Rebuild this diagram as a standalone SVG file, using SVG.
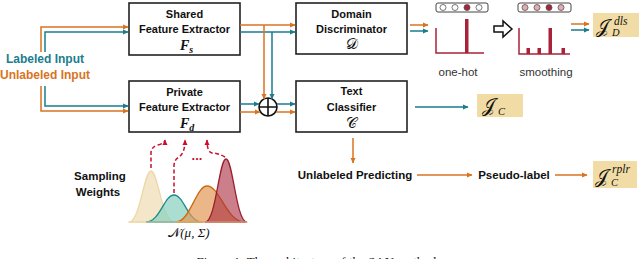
<svg xmlns="http://www.w3.org/2000/svg" width="640" height="259" viewBox="0 0 640 259">
<style>
.box{fill:#fff;stroke:#222;stroke-width:1.6}
.t{font-family:"Liberation Sans",Arial,sans-serif;font-weight:bold;font-size:11px;fill:#111;text-anchor:middle}
.m{font-family:"Liberation Serif","DejaVu Serif",serif;font-style:italic;fill:#111}
.s{font-family:"Liberation Serif","DejaVu Serif",serif;font-style:normal;fill:#111}
.o{stroke:#d9731f;stroke-width:1.5;fill:none}
.c{stroke:#1a7d8e;stroke-width:1.5;fill:none}
.oa{marker-end:url(#ao)}
.ca{marker-end:url(#ac)}
.tan{fill:#f2dca6}
.lab{font-family:"Liberation Sans",Arial,sans-serif;font-size:11.5px;fill:#333;text-anchor:middle}
.dr{fill:#a8233a}
</style>
<defs>
<marker id="ao" markerUnits="userSpaceOnUse" markerWidth="6" markerHeight="6" refX="5" refY="3" orient="auto"><path d="M0,0.5 L5.5,3 L0,5.5 Z" fill="#d9731f"/></marker>
<marker id="ac" markerUnits="userSpaceOnUse" markerWidth="6" markerHeight="6" refX="5" refY="3" orient="auto"><path d="M0,0.5 L5.5,3 L0,5.5 Z" fill="#1a7d8e"/></marker>
<marker id="ar" markerUnits="userSpaceOnUse" markerWidth="6" markerHeight="6" refX="5" refY="3" orient="auto"><path d="M0,0.5 L5.5,3 L0,5.5 Z" fill="#c8102e"/></marker>
</defs>

<g id="inputs">
<text x="45" y="63" class="t" style="font-size:12px;fill:#1a7d8e">Labeled Input</text>
<text x="45" y="79" class="t" style="font-size:12px;fill:#d9731f">Unlabeled Input</text>
</g>

<g id="shared">
<rect class="box" x="129" y="3" width="111" height="52"/>
<text class="t" x="184.5" y="18">Shared</text>
<text class="t" x="184.5" y="33">Feature Extractor</text>
<text class="m" x="180" y="50" font-size="14" font-weight="bold">F<tspan font-size="10" dy="3">s</tspan></text>
</g>

<g id="private">
<rect class="box" x="129" y="81" width="111" height="51"/>
<text class="t" x="184.5" y="96">Private</text>
<text class="t" x="184.5" y="111">Feature Extractor</text>
<text class="m" x="180" y="128" font-size="14" font-weight="bold">F<tspan font-size="10" dy="3">d</tspan></text>
</g>

<g id="domain">
<rect class="box" x="296" y="3" width="111" height="51"/>
<text class="t" x="351.5" y="18">Domain</text>
<text class="t" x="351.5" y="33">Discriminator</text>
<text class="s" x="351.5" y="49" font-size="15" text-anchor="middle">𝒟</text>
</g>

<g id="classifier">
<rect class="box" x="296" y="81" width="111" height="51"/>
<text class="t" x="351.5" y="95">Text</text>
<text class="t" x="351.5" y="111">Classifier</text>
<text class="s" x="351.5" y="128" font-size="15" text-anchor="middle">𝒞</text>
</g>

<g id="sum">
<circle cx="268" cy="107" r="9" fill="#fff" stroke="#111" stroke-width="1.6"/>
<path d="M259,107 H277 M268,98 V116" stroke="#111" stroke-width="1.6"/>
</g>

<g id="onehot">
<rect x="436" y="3" width="52" height="9" rx="2" fill="#fff" stroke="#444" stroke-width="1"/>
<circle cx="443" cy="7.5" r="3" fill="#fff" stroke="#555" stroke-width="0.8"/>
<circle cx="455" cy="7.5" r="3" fill="#fff" stroke="#555" stroke-width="0.8"/>
<circle cx="467" cy="7.5" r="3" fill="#a8233a" stroke="#555" stroke-width="0.8"/>
<circle cx="479" cy="7.5" r="3" fill="#fff" stroke="#555" stroke-width="0.8"/>
<path d="M436,28 V53 H484" stroke="#a8233a" stroke-width="1.5" fill="none"/>
<rect class="dr" x="465" y="19" width="3.5" height="34"/>
<text class="lab" x="458" y="76">one-hot</text>
</g>

<g id="hollow-arrow">
<path d="M494,26 H503 V21 L512,29 L503,37 V32 H494 Z" fill="#fff" stroke="#111" stroke-width="1.5"/>
</g>

<g id="smoothing">
<rect x="518" y="3" width="53" height="9" rx="2" fill="#fff" stroke="#444" stroke-width="1"/>
<circle cx="525" cy="7.5" r="3" fill="#e7a9b3" stroke="#555" stroke-width="0.8"/>
<circle cx="537" cy="7.5" r="3" fill="#e7a9b3" stroke="#555" stroke-width="0.8"/>
<circle cx="549" cy="7.5" r="3" fill="#a8233a" stroke="#555" stroke-width="0.8"/>
<circle cx="561" cy="7.5" r="3" fill="#e7a9b3" stroke="#555" stroke-width="0.8"/>
<path d="M519,28 V54 H570" stroke="#a8233a" stroke-width="1.5" fill="none"/>
<rect class="dr" x="526.5" y="48" width="3.5" height="6"/>
<rect class="dr" x="537.5" y="48" width="3.5" height="6"/>
<rect class="dr" x="548.5" y="28" width="3.5" height="26"/>
<rect class="dr" x="561.5" y="48" width="3.5" height="6"/>
<text class="lab" x="546" y="76">smoothing</text>
</g>

<g id="jd">
<rect class="tan" x="593" y="13" width="46" height="24"/>
<text class="s" x="596" y="33" font-size="19">𝒥</text>
<text class="m" x="614" y="25" font-size="11.5">dls</text>
<text class="m" x="612" y="36" font-size="10.5">D</text>
</g>

<g id="jc">
<rect class="tan" x="477" y="94" width="46" height="23"/>
<text class="s" x="482" y="112" font-size="19">𝒥</text>
<text class="m" x="498" y="115" font-size="10.5">C</text>
</g>

<g id="unlabeled-predicting">
<text class="t" x="355" y="179" style="font-size:11.5px">Unlabeled Predicting</text>
</g>

<g id="pseudo-label">
<text class="t" x="514" y="179" style="font-size:11.5px">Pseudo-label</text>
</g>

<g id="jrplr">
<rect class="tan" x="593" y="161" width="44" height="27"/>
<text class="s" x="595" y="183" font-size="19">𝒥</text>
<text class="m" x="612" y="173" font-size="11.5">rplr</text>
<text class="m" x="611" y="186" font-size="10.5">C</text>
</g>

<g id="sampling">
<text class="t" x="100" y="180" style="font-size:11.5px">Sampling</text>
<text class="t" x="98" y="196" style="font-size:11.5px">Weights</text>
<path d="M129,222 C140,222 144,171 151,171 C158,171 162,222 174,222 Z" fill="#f4e6c9" stroke="#eed7a7" stroke-width="1.3"/>
<path d="M146,222 C160,222 164,195 174,195 C184,195 188,222 202,222 Z" fill="#8fd1c0" fill-opacity="0.75" stroke="#1a8a8f" stroke-width="1.3"/>
<path d="M176,222 C190,222 196,186 207,186 C220,186 226,222 245,222 Z" fill="#e39955" fill-opacity="0.7" stroke="#cc6a10" stroke-width="1.3"/>
<path d="M205,222 C216,222 219,159 226,159 C233,159 236,222 247,222 Z" fill="#a82a3e" fill-opacity="0.6" stroke="#9c1f2e" stroke-width="1.3"/>
<path d="M128,222 H248" stroke="#efd9a8" stroke-width="1"/>
<path d="M151,168 V153 Q151,147 158,145 Q165,143 165,140" fill="none" stroke="#c8102e" stroke-width="1.5" stroke-dasharray="4,2.5" marker-end="url(#ar)"/>
<path d="M174,193 V166 Q174,160 179,157 Q185,153 185,140" fill="none" stroke="#c8102e" stroke-width="1.5" stroke-dasharray="4,2.5" marker-end="url(#ar)"/>
<path d="M225,157 Q218,153 212,153 Q207,152 207,140" fill="none" stroke="#c8102e" stroke-width="1.5" stroke-dasharray="4,2.5" marker-end="url(#ar)"/>
<text x="197" y="160" font-family="Liberation Sans,Arial,sans-serif" font-size="13" font-weight="bold" fill="#c8102e" text-anchor="middle">...</text>
<text class="s" x="189" y="237" font-size="13" text-anchor="middle">𝒩<tspan font-style="italic">(μ, Σ)</tspan></text>
</g>

<g id="connectors">
<path class="o oa" d="M41,52 V27 H128"/>
<path class="c ca" d="M45,52 V32 H128"/>
<path class="o oa" d="M41,86 V111 H128"/>
<path class="c ca" d="M45,86 V106 H128"/>
<path class="o oa" d="M240,25 H295"/>
<path class="c ca" d="M240,32 H295"/>
<path class="o oa" d="M264,25 V99"/>
<path class="c ca" d="M272,32 V99"/>
<path class="c ca" d="M240,104 H259"/>
<path class="o oa" d="M240,112 H260"/>
<path class="c ca" d="M277,104 H295"/>
<path class="o oa" d="M276,112 H295"/>
<path class="o oa" d="M410,25 H428"/>
<path class="c ca" d="M410,31 H428"/>
<path class="o oa" d="M571,24 H589"/>
<path class="c ca" d="M571,30 H589"/>
<path class="c ca" d="M415,107 H468"/>
<path class="o oa" d="M353,138 V163"/>
<path class="o oa" d="M417,175 H472"/>
<path class="o oa" d="M555,175 H587"/>
</g>

<text x="318" y="266" font-family="Liberation Serif,serif" font-size="13" fill="#222" text-anchor="middle">Figure 1: The architecture of the SAN method.</text>
</svg>
